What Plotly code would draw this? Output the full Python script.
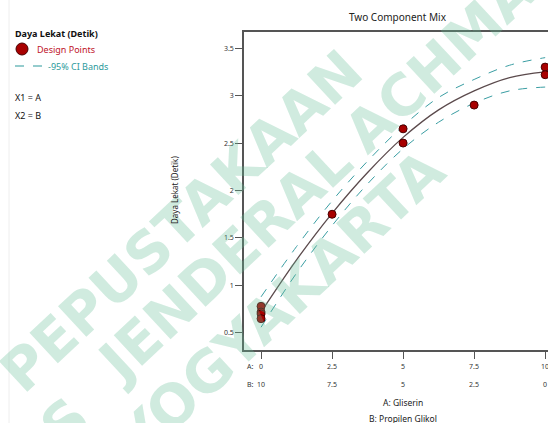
import plotly.graph_objects as go

# ---- data ----
design_A = [0, 0, 0, 0, 2.5, 5, 5, 7.5, 10, 10]
design_y = [0.78, 0.72, 0.70, 0.65, 1.75, 2.65, 2.50, 2.90, 3.30, 3.22]

curve_A = [0, 1.25, 2.5, 3.75, 5, 6.25, 7.5, 8.75, 10]
curve_fit = [0.72, 1.27, 1.76, 2.19, 2.56, 2.85, 3.05, 3.19, 3.25]
ci_upper = [0.88, 1.41, 1.89, 2.31, 2.68, 2.98, 3.17, 3.32, 3.40]
ci_lower = [0.56, 1.13, 1.63, 2.07, 2.44, 2.72, 2.92, 3.05, 3.09]

tick_A = [0, 2.5, 5, 7.5, 10]
tick_A_labels = ["0", "2.5", "5", "7.5", "10"]
tick_B_labels = ["10", "7.5", "5", "2.5", "0"]
y_ticks = [0.5, 1, 1.5, 2, 2.5, 3, 3.5]
y_tick_labels = ["0.5", "1", "1.5", "2", "2.5", "3", "3.5"]

W, H = 548, 423
L, R, T, B = 244, 0, 32, 73
PW, PH = W - L - R, H - T - B


def px(x):
    return (x - L) / PW


def py(y):
    return (H - B - y) / PH


FONT = "Noto Sans"
fig = go.Figure()

fig.add_trace(go.Scatter(x=curve_A, y=ci_upper, mode="lines", line=dict(color="#3a9ea3", width=1, dash="dash", shape="spline"), hoverinfo="skip"))
fig.add_trace(go.Scatter(x=curve_A, y=ci_lower, mode="lines", line=dict(color="#3a9ea3", width=1, dash="dash", shape="spline"), hoverinfo="skip"))
fig.add_trace(go.Scatter(x=curve_A, y=curve_fit, mode="lines", line=dict(color="#5b4a4c", width=1.3, shape="spline"), hoverinfo="skip"))
fig.add_trace(go.Scatter(x=design_A, y=design_y, mode="markers",
                         marker=dict(color="#a80000", size=8, line=dict(color="#4a0000", width=1))))

fig.update_layout(
    width=W, height=H, showlegend=False,
    margin=dict(l=L, r=R, t=T, b=B),
    paper_bgcolor="white", plot_bgcolor="white",
    font=dict(family=FONT, color="#333", size=7),
    xaxis=dict(range=[-0.6, 10.1], showgrid=False, zeroline=False, showline=True, mirror=True,
               linecolor="#555", linewidth=1.5, tickvals=tick_A, ticks="outside", ticklen=7,
               tickcolor="#555", showticklabels=False),
    yaxis=dict(range=[0.32, 3.67], showgrid=False, zeroline=False, showline=True, linecolor="#555",
               linewidth=1.5, tickvals=y_ticks, ticktext=y_tick_labels, ticks="outside", ticklen=7,
               tickcolor="#555", tickfont=dict(size=7, color="#333")),
)

ann = []


def add(x, y, text, size, color, xanchor="center", textangle=0, family=None, xref="paper"):
    f = dict(size=size, color=color)
    if family:
        f["family"] = family
    ann.append(dict(x=x, y=y, xref=xref, yref="paper", text=text, showarrow=False,
                    xanchor=xanchor, yanchor="middle", textangle=textangle, font=f))


# watermark (drawn first)
wm_font = "DejaVu Sans"
wm_col = "rgba(100,190,150,0.30)"
add(px(181), py(221), "<b>PEPUSTAKAAN</b>", 57, wm_col, textangle=-43, family=wm_font)
add(px(-75), py(553), "<b>UNIVERSITAS</b>", 57, wm_col, textangle=-43, family=wm_font)
add(px(224), py(262), "<b>JENDERAL</b>", 57, wm_col, textangle=-43, family=wm_font)
add(px(457), py(45), "<b>ACHMAD</b>", 57, wm_col, textangle=-43, family=wm_font)
add(px(280), py(305), "<b>YOGYAKARTA</b>", 57, wm_col, textangle=-43, family=wm_font)

# x tick label rows
for v, a, b in zip(tick_A, tick_A_labels, tick_B_labels):
    add(v, py(366), a, 7, "#333", xref="x")
    add(v, py(384), b, 7, "#333", xref="x")
add(px(250), py(366), "A:", 7, "#333")
add(px(250), py(384), "B:", 7, "#333")
add(px(403), py(402), "A: Gliserin", 8.5, "#222")
add(px(403), py(418), "B: Propilen Glikol", 8.5, "#222")
# y title
add(px(174), py(190), "Daya Lekat (Detik)", 8, "#222", textangle=-90)
# title
add(px(398), py(17), "Two Component Mix", 10, "#222")
# left legend
add(px(13), py(33), "<b>Daya Lekat (Detik)</b>", 9, "#111", xanchor="left")
add(px(35), py(49), "Design Points", 9, "#c0142a", xanchor="left")
add(px(46), py(66), "-95% CI Bands", 9, "#2c9a9c", xanchor="left")
add(px(13), py(98), "X1 = A", 9, "#111", xanchor="left")
add(px(13), py(115), "X2 = B", 9, "#111", xanchor="left")

fig.update_layout(annotations=ann)

shapes = [
    dict(type="circle", xref="paper", yref="paper", x0=px(16), x1=px(28), y0=py(43), y1=py(55),
         fillcolor="#a80000", line=dict(color="#4a0000", width=1)),
    dict(type="line", xref="paper", yref="paper", x0=px(15), x1=px(44), y0=py(66), y1=py(66),
         line=dict(color="#2c9a9c", width=1.2, dash="dash")),
    dict(type="line", xref="paper", yref="paper", x0=px(9), x1=px(9), y0=py(0), y1=py(423),
         line=dict(color="#eeeeee", width=1)),
]
fig.update_layout(shapes=shapes)

fig.write_html("out.html", config={"displayModeBar": False},
               post_script="document.body.style.margin='0px';")
